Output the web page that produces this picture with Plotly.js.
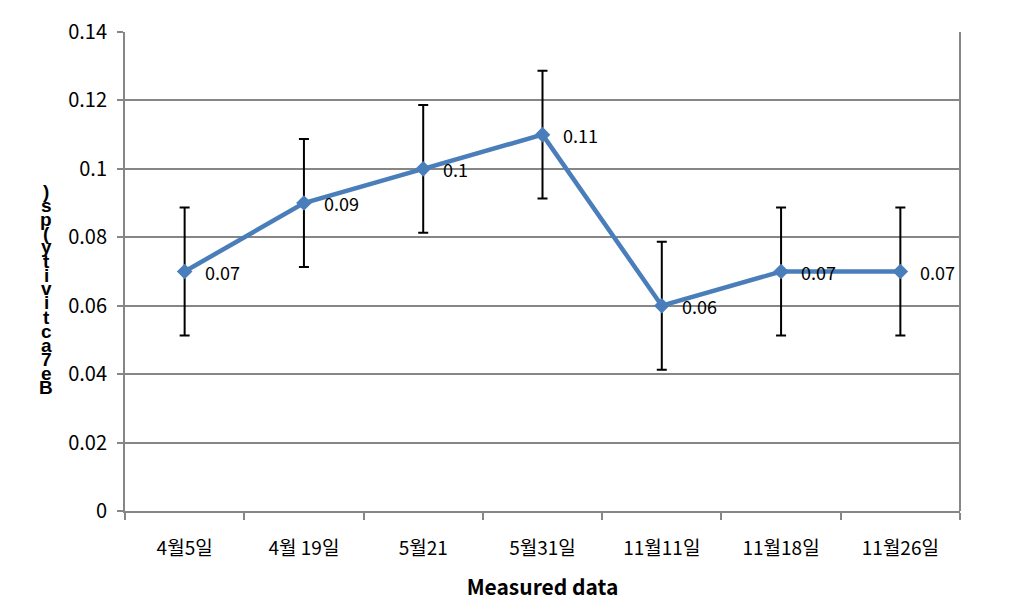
<!DOCTYPE html>
<html>
<head>
<meta charset="utf-8">
<script src="https://cdn.plot.ly/plotly-3.0.1.min.js"></script>
<style>html,body{margin:0;padding:0;background:#fff;}#chart{width:1025px;height:612px;}</style>
</head>
<body>
<div id="chart"></div>
<script>
const categories = ["4월5일", "4월 19일", "5월21", "5월31일", "11월11일", "11월18일", "11월26일"];
const values = [0.07, 0.09, 0.1, 0.11, 0.06, 0.07, 0.07];
const errors = [0.0187, 0.0187, 0.0187, 0.0187, 0.0187, 0.0187, 0.0187];
const labels = ["0.07", "0.09", "0.1", "0.11", "0.06", "0.07", "0.07"];
const yTicks = [0, 0.02, 0.04, 0.06, 0.08, 0.1, 0.12, 0.14];
const yTickText = ["0", "0.02", "0.04", "0.06", "0.08", "0.1", "0.12", "0.14"];
const xTitle = "Measured data";
const yTitle = "Be7activity(ps)";

const FONT = "Noto Sans CJK KR, Noto Sans, sans-serif";

const trace = {
  x: categories,
  y: values,
  type: "scatter",
  mode: "lines+markers",
  line: {color: "#4A7EBB", width: 4.5},
  marker: {symbol: "diamond", size: 12, color: "#4A7EBB"},
  error_y: {type: "data", array: errors, visible: true, color: "#000", thickness: 2, width: 5},
  cliponaxis: false,
  hoverinfo: "skip"
};

// data labels, placed through the axes
const labelAnns = categories.map((c, i) => ({
  xref: "x", yref: "y", x: c, y: values[i],
  text: labels[i], showarrow: false,
  xanchor: "left", yanchor: "middle", xshift: 18,
  font: {family: FONT, size: 18, color: "#000"}
}));

// vertical stacked title characters (drawn top to bottom, reading bottom-up)
const chars = yTitle.split("").reverse();
const titleAnns = chars.map((c, i) => ({
  xref: "paper", yref: "paper",
  x: (46 - 125) / 835,
  y: (511 - (191 + i * 14)) / 479,
  text: "<b>" + c + "</b>",
  showarrow: false,
  xanchor: "center", yanchor: "middle",
  font: {family: "Liberation Sans, Arial, sans-serif", size: 19, color: "#000"}
}));

const layout = {
  width: 1025, height: 612,
  margin: {l: 125, r: 65, t: 32, b: 101},
  paper_bgcolor: "#fff", plot_bgcolor: "#fff",
  showlegend: false,
  font: {family: FONT, color: "#000"},
  xaxis: {
    type: "category",
    range: [-0.5, 6.5],
    tickson: "boundaries",
    ticks: "outside", ticklen: 7, tickwidth: 2, tickcolor: "#868686",
    showline: true, linecolor: "#868686", linewidth: 2,
    showgrid: false, zeroline: false,
    tickfont: {family: FONT, size: 19, color: "#000"},
    ticklabelstandoff: 19,
    title: {text: "<b>" + xTitle + "</b>", font: {family: FONT, size: 21, color: "#000"}, standoff: 22}
  },
  yaxis: {
    range: [0, 0.14],
    tickvals: yTicks, ticktext: yTickText,
    ticks: "outside", ticklen: 6, tickwidth: 2, tickcolor: "#868686",
    showline: true, linecolor: "#868686", linewidth: 2,
    showgrid: true, gridcolor: "#868686", gridwidth: 2,
    zeroline: false,
    tickfont: {family: FONT, size: 20, color: "#000"},
    ticklabelstandoff: 6
  },
  shapes: [{
    type: "line", xref: "paper", yref: "paper", x0: 1, x1: 1, y0: 0, y1: 1,
    line: {color: "#868686", width: 2}
  }],
  annotations: labelAnns.concat(titleAnns)
};

Plotly.newPlot("chart", [trace], layout, {displayModeBar: false, staticPlot: true});
</script>
</body>
</html>
